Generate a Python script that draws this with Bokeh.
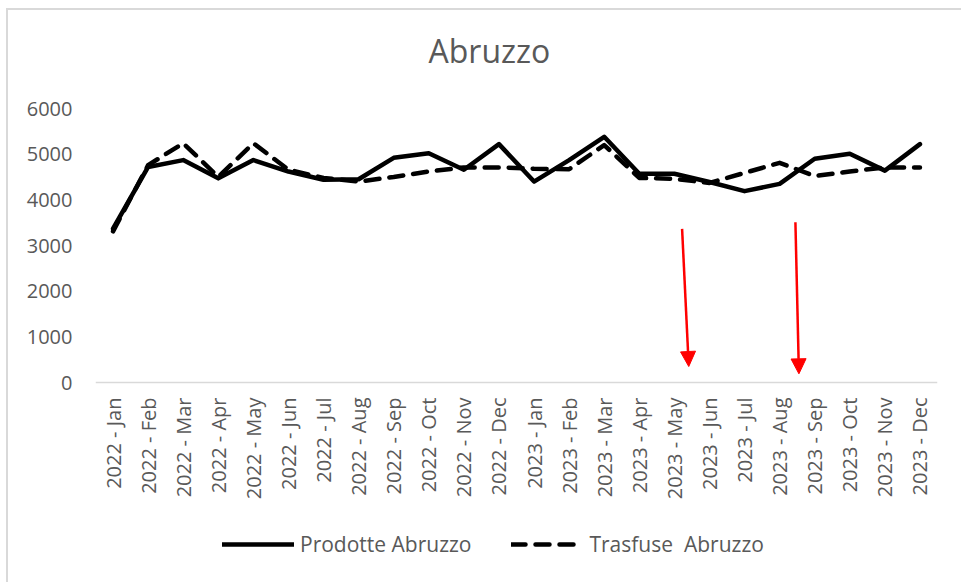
import math
from bokeh.plotting import figure
from bokeh.models import (Range1d, FixedTicker, Legend, LegendItem, Arrow, NormalHead, Title, LinearAxis)
from bokeh.embed import file_html
from bokeh.resources import INLINE

months = ["2022 - Jan", "2022 - Feb", "2022 - Mar", "2022 - Apr", "2022 - May", "2022 - Jun",
          "2022 - Jul", "2022 - Aug", "2022 - Sep", "2022 - Oct", "2022 - Nov", "2022 - Dec",
          "2023 - Jan", "2023 - Feb", "2023 - Mar", "2023 - Apr", "2023 - May", "2023 - Jun",
          "2023 - Jul", "2023 - Aug", "2023 - Sep", "2023 - Oct", "2023 - Nov", "2023 - Dec"]
prodotte = [3370, 4720, 4870, 4470, 4870, 4620, 4440, 4450, 4920, 5020, 4660, 5220,
            4400, 4870, 5380, 4570, 4570, 4390, 4190, 4350, 4900, 5010, 4640, 5220]
trasfuse = [3310, 4760, 5240, 4500, 5240, 4660, 4480, 4400, 4500, 4620, 4710, 4710,
            4680, 4670, 5200, 4480, 4460, 4370, 4590, 4810, 4520, 4620, 4710, 4710]
y_ticks = [0, 1000, 2000, 3000, 4000, 5000, 6000]
y_max = 6000

# annotation arrows (x in month index, y in data units)
arrow_x_start = [16.22, 19.45]
arrow_y_start = [3365, 3510]
arrow_x_end = [16.41, 19.55]
arrow_y_end = [350, 190]

FONT = "Open Sans"
GRAY = "#595959"

x_idx = list(range(len(months)))

# plot area: 274 px for 0..6000, extended 200 px below 0 for tick labels and legend
FRAME_H = 474
y_min = -y_max * (FRAME_H - 274) / 274

p = figure(frame_width=842, frame_height=FRAME_H, output_backend="svg", toolbar_location=None,
           title=None, x_axis_location=None,
           x_range=Range1d(-0.5, len(months) - 0.5), y_range=Range1d(y_min, y_max),
           min_border_left=87, min_border_right=24, min_border_top=98, min_border_bottom=0,
           background_fill_color="white", border_fill_color="white",
           styles={"border-left": "2px solid #d9d9d9", "border-top": "2px solid #d9d9d9",
                   "margin-left": "6px", "margin-top": "8px"})
p.outline_line_color = None
p.grid.visible = False

# spacer between the frame and the title (closest to the frame)
p.add_layout(Title(text=" ", text_font_size="1px", standoff=34), "above")
p.add_layout(Title(text="Abruzzo", align="left", vertical_align="bottom", text_font=FONT,
                   text_font_size="32px", text_font_style="normal", text_color=GRAY,
                   standoff=0, offset=333), "above")

xaxis = LinearAxis(fixed_location=0, ticker=FixedTicker(ticks=x_idx),
                   major_label_overrides={i: m for i, m in enumerate(months)},
                   major_label_orientation=math.pi / 2,
                   major_tick_line_color=None, minor_tick_line_color=None,
                   major_tick_out=0, major_tick_in=0, major_label_standoff=15,
                   axis_line_color="#d9d9d9", axis_line_width=1.5,
                   major_label_text_font=FONT, major_label_text_font_size="20px",
                   major_label_text_color=GRAY)
p.add_layout(xaxis, "below")

p.yaxis.ticker = FixedTicker(ticks=y_ticks)
p.yaxis.axis_line_color = None
p.yaxis.major_tick_line_color = None
p.yaxis.minor_tick_line_color = None
p.yaxis.major_tick_out = 0
p.yaxis.major_label_standoff = 23
p.yaxis.major_label_text_font = FONT
p.yaxis.major_label_text_font_size = "20px"
p.yaxis.major_label_text_color = GRAY

r1 = p.line(x_idx, prodotte, line_color="black", line_width=4.5, line_join="round", line_cap="round")
r2 = p.line(x_idx, trasfuse, line_color="black", line_width=4.5, line_join="round", line_cap="round",
            line_dash="14 10")

for xs, ys, xe, ye in zip(arrow_x_start, arrow_y_start, arrow_x_end, arrow_y_end):
    p.add_layout(Arrow(x_start=xs, y_start=ys, x_end=xe, y_end=ye, line_color="red", line_width=2.5,
                       end=NormalHead(size=15, fill_color="red", line_color="red", line_width=1)))

legend = Legend(items=[LegendItem(label="Prodotte Abruzzo", renderers=[r1]),
                       LegendItem(label="Trasfuse  Abruzzo", renderers=[r2])],
                orientation="horizontal", location=(127, 24),
                glyph_width=72, glyph_height=22, label_standoff=6, spacing=40,
                label_text_font=FONT, label_text_font_size="21px", label_text_color=GRAY,
                padding=0, margin=0, border_line_color=None, background_fill_alpha=0)
p.add_layout(legend, "center")

open("out.html", "w").write(file_html(p, INLINE))
